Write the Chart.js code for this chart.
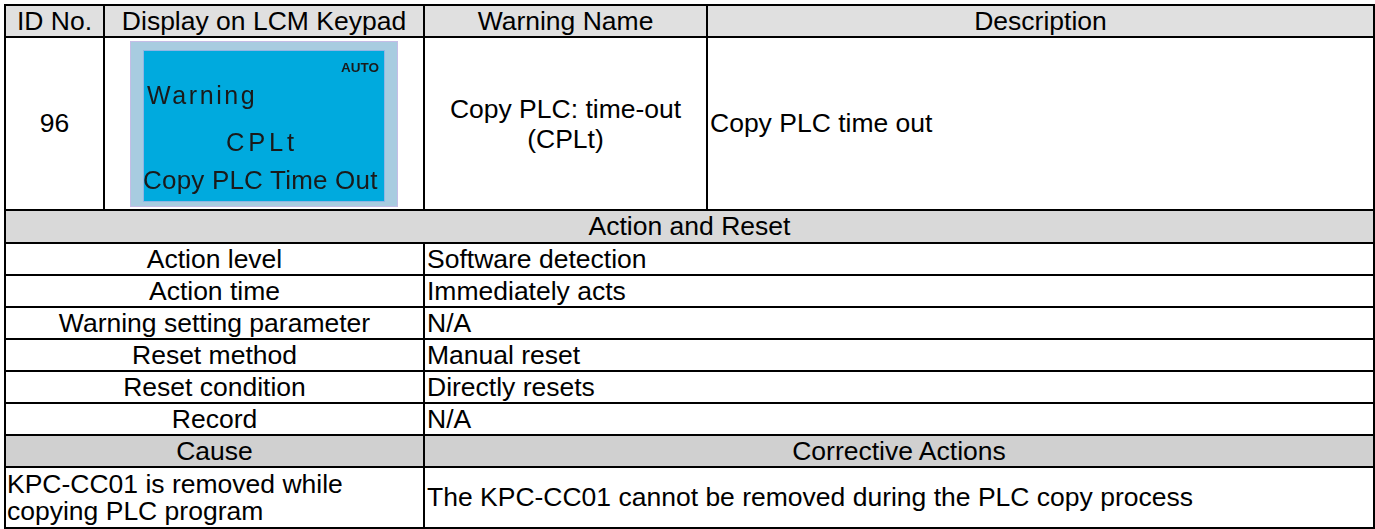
<!DOCTYPE html>
<html>
<head>
<meta charset="utf-8">
<script src="https://cdn.jsdelivr.net/npm/chart.js@4"></script>
<style>
  body { margin: 0; background: #fff; font-family: "Liberation Sans", Arial, sans-serif; color: #000; }
  #sheet { position: absolute; left: 4px; top: 4px; border-collapse: collapse; table-layout: fixed; width: 1369px; }
  #sheet td { border: 2px solid #000; padding: 0 3px; font-size: 26.5px; line-height: 27px; overflow: hidden; white-space: nowrap; }
  .head td { background: #e0e0e0; text-align: center; }
  .band td { background: #d9d9d9; text-align: center; }
  .band2 td { background: #d0d0d0; text-align: center; }
  .c { text-align: center; }
  #lcm { position: relative; width: 268px; height: 166px; margin: 0 auto; }
  #lcm canvas { position: absolute; left: 0; top: 0; }
  #lcm span { position: absolute; line-height: 1; color: #1a1a1a; white-space: nowrap; }
</style>
</head>
<body>
<table id="sheet">
  <colgroup><col style="width:99px"><col style="width:320px"><col style="width:283px"><col style="width:667px"></colgroup>
  <tbody id="rows"></tbody>
</table>
<script>
const headerLabels = ["ID No.", "Display on LCM Keypad", "Warning Name", "Description"];
const warningId = "96";
const lcmLines = ["AUTO", "Warning", "CPLt", "Copy PLC Time Out"];
const warningName = ["Copy PLC: time-out", "(CPLt)"];
const description = "Copy PLC time out";
const sectionTitle = "Action and Reset";
const actionItems = ["Action level", "Action time", "Warning setting parameter", "Reset method", "Reset condition", "Record"];
const actionValues = ["Software detection", "Immediately acts", "N/A", "Manual reset", "Directly resets", "N/A"];
const causeHeaders = ["Cause", "Corrective Actions"];
const causes = [["KPC-CC01 is removed while", "copying PLC program"]];
const correctiveActions = ["The KPC-CC01 cannot be removed during the PLC copy process"];

const rows = document.getElementById("rows");
let html = "";
html += '<tr class="head" style="height:32px">' + headerLabels.map((h) => "<td>" + h + "</td>").join("") + "</tr>";
html += '<tr style="height:173px">';
html += '<td class="c">' + warningId + "</td>";
html += '<td style="padding:0"><div id="lcm"><canvas id="lcmCanvas" width="268" height="166"></canvas>' +
  '<span style="right:19px;top:20px;font-size:13.5px;font-weight:bold">' + lcmLines[0] + "</span>" +
  '<span style="left:17px;top:42px;font-size:25px;letter-spacing:2.6px">' + lcmLines[1] + "</span>" +
  '<span style="left:96px;top:89px;font-size:25.5px;letter-spacing:3.8px">' + lcmLines[2] + "</span>" +
  '<span style="left:13px;top:126px;font-size:26px;letter-spacing:0.2px">' + lcmLines[3] + "</span>" +
  "</div></td>";
html += '<td class="c" style="line-height:30px">' + warningName.join("<br>") + "</td>";
html += '<td style="padding-left:2px">' + description + "</td>";
html += "</tr>";
html += '<tr class="band" style="height:33px"><td colspan="4">' + sectionTitle + "</td></tr>";
actionItems.forEach((item, i) => {
  html += '<tr style="height:32px"><td colspan="2" class="c">' + item + '</td><td colspan="2" style="padding-left:2px">' + actionValues[i] + "</td></tr>";
});
html += '<tr class="band2" style="height:32px"><td colspan="2">' + causeHeaders[0] + '</td><td colspan="2">' + causeHeaders[1] + "</td></tr>";
causes.forEach((cause, i) => {
  html += '<tr style="height:61px"><td colspan="2" style="padding-left:1px;line-height:27px">' + cause.join("<br>") +
    '</td><td colspan="2" style="padding-left:2px">' + correctiveActions[i] + "</td></tr>";
});
rows.innerHTML = html;

// the keypad screen: outer frame and blue panel drawn on the chart canvas
const panelPlugin = {
  id: "panel",
  beforeDraw(chart) {
    const { ctx, chartArea } = chart;
    ctx.save();
    ctx.fillStyle = "#a8cce0";
    ctx.fillRect(0, 0, chart.width, chart.height);
    ctx.strokeStyle = "#c4bde6";
    ctx.lineWidth = 1;
    ctx.strokeRect(0.5, 0.5, chart.width - 1, chart.height - 1);
    ctx.fillStyle = "#00aade";
    ctx.fillRect(chartArea.left, chartArea.top, chartArea.right - chartArea.left, chartArea.bottom - chartArea.top);
    ctx.strokeStyle = "#8fb6e4";
    ctx.strokeRect(chartArea.left + 0.5, chartArea.top + 0.5, chartArea.right - chartArea.left - 1, chartArea.bottom - chartArea.top - 1);
    ctx.restore();
  },
};

new Chart(document.getElementById("lcmCanvas").getContext("2d"), {
  type: "bar",
  data: { labels: [], datasets: [] },
  options: {
    responsive: false,
    animation: false,
    layout: { padding: { left: 13, right: 13, top: 9, bottom: 5 } },
    scales: { x: { display: false }, y: { display: false } },
    plugins: { legend: { display: false }, tooltip: { enabled: false } },
  },
  plugins: [panelPlugin],
});
</script>
</body>
</html>
